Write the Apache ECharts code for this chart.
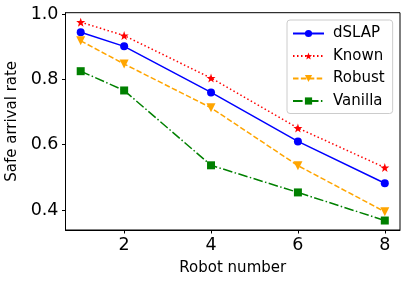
<!DOCTYPE html>
<html><head><meta charset="utf-8">
<script src="https://cdn.jsdelivr.net/npm/echarts@6/dist/echarts.min.js"></script>
<style>html,body{margin:0;padding:0;background:#fff}#c{width:410px;height:282px}</style>
</head><body><div id="c"></div>
<script>
var robots = [1, 2, 4, 6, 8];
var dSLAP = [0.944, 0.901, 0.760, 0.610, 0.482];
var known = [0.975, 0.934, 0.804, 0.651, 0.530];
var robust = [0.918, 0.847, 0.713, 0.536, 0.395];
var vanilla = [0.825, 0.766, 0.537, 0.454, 0.368];
var xTicks = [2, 4, 6, 8];
var yTicks = [0.4, 0.6, 0.8, 1.0];

function pairs(v){ return robots.map(function(x,i){ return [x, v[i]]; }); }
var star = 'path://M0,-10 L2.35,-3.24 L9.51,-3.09 L3.8,1.24 L5.88,8.09 L0,4 L-5.88,8.09 L-3.8,1.24 L-9.51,-3.09 L-2.35,-3.24 Z';
var font = 'DejaVu Sans';
var chart = echarts.init(document.getElementById('c'), null, {renderer:'canvas'});
chart.setOption({
  animation: false,
  backgroundColor: '#fff',
  grid: {left: 65.5, right: 10, top: 12.7, bottom: 52, containLabel: false, outerBoundsMode: 'none',
         show: true, borderColor: '#000', borderWidth: 1, backgroundColor: 'transparent'},
  xAxis: {
    type: 'value', min: 0.65, max: 8.35,
    name: 'Robot number', nameLocation: 'middle', nameGap: 31,
    nameTextStyle: {fontFamily: font, fontSize: 15, color: '#000'},
    axisLine: {show: true, lineStyle: {color: '#000', width: 1}},
    axisTick: {show: true, customValues: xTicks, length: 3.5, lineStyle: {color: '#000'}},
    axisLabel: {customValues: xTicks, fontFamily: font, fontSize: 17.5, color: '#000', margin: 6},
    splitLine: {show: false}
  },
  yAxis: {
    type: 'value', min: 0.339, max: 1.004,
    name: 'Safe arrival rate', nameLocation: 'middle', nameGap: 42, nameRotate: 90,
    nameTextStyle: {fontFamily: font, fontSize: 15, color: '#000'},
    axisLine: {show: true, lineStyle: {color: '#000', width: 1}},
    axisTick: {show: true, customValues: yTicks, length: 3.5, lineStyle: {color: '#000'}},
    axisLabel: {customValues: yTicks, fontFamily: font, fontSize: 17.5, color: '#000', margin: 7,
      formatter: function(v){ return v.toFixed(1); }},
    splitLine: {show: false}
  },
  legend: {
    orient: 'vertical', left: 287, top: 20,
    backgroundColor: 'rgba(255,255,255,0.8)', borderColor: '#cccccc', borderWidth: 1, borderRadius: 3,
    padding: [6, 8, 5, 5], itemGap: 7.5, itemWidth: 31, itemHeight: 9,
    textStyle: {fontFamily: font, fontSize: 15, color: '#000', padding: [0,0,0,4]},
    data: ['dSLAP', 'Known', 'Robust', 'Vanilla']
  },
  series: [
    {name: 'dSLAP', type: 'line', data: pairs(dSLAP), color: '#0000ff',
     lineStyle: {width: 1.5, type: 'solid'}, symbol: 'circle', symbolSize: 8, itemStyle: {color: '#0000ff'}},
    {name: 'Known', type: 'line', data: pairs(known), color: '#ff0000',
     lineStyle: {width: 1.5, type: [1.5, 2.5]}, symbol: star, symbolSize: 9, itemStyle: {color: '#ff0000'}},
    {name: 'Robust', type: 'line', data: pairs(robust), color: '#ffa500',
     lineStyle: {width: 1.5, type: [5.5, 2.4]}, symbol: 'triangle', symbolRotate: 180, symbolSize: 9, itemStyle: {color: '#ffa500'}},
    {name: 'Vanilla', type: 'line', data: pairs(vanilla), color: '#008000',
     lineStyle: {width: 1.5, type: [9.6, 2.4, 1.5, 2.4]}, symbol: 'rect', symbolSize: 8, itemStyle: {color: '#008000'}}
  ]
});
</script></body></html>
